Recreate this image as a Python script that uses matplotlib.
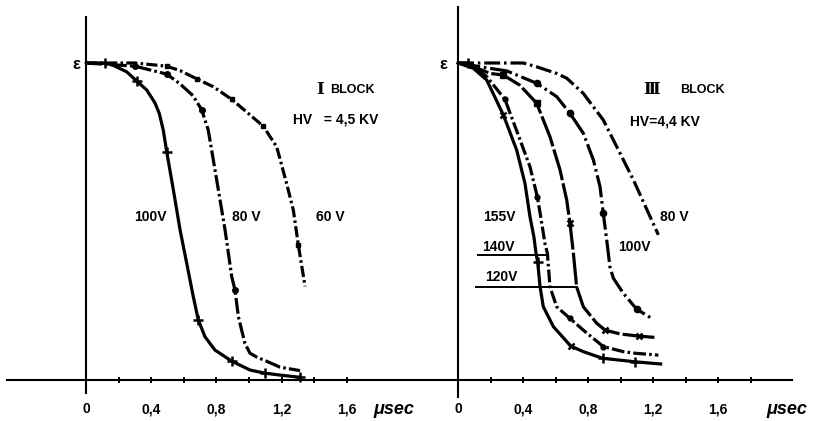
import matplotlib
matplotlib.use("Agg")
import matplotlib.pyplot as plt

# ---------------- data ----------------
# Panel I (HV = 4,5 KV): normalised efficiency vs delay (usec)
I_100_x = [0.0, 0.117, 0.166, 0.25, 0.311, 0.372, 0.423, 0.45, 0.474, 0.495, 0.536, 0.577, 0.618, 0.658, 0.689, 0.73, 0.791, 0.894, 1.006, 1.098, 1.19, 1.313]
I_100_y = [1.0, 1.0, 0.993, 0.972, 0.943, 0.915, 0.874, 0.84, 0.788, 0.72, 0.599, 0.473, 0.367, 0.262, 0.188, 0.135, 0.093, 0.058, 0.03, 0.02, 0.014, 0.007]
I_100_mx = [0.117, 0.311, 0.495, 0.689, 0.894, 1.098, 1.313]
I_100_my = [1.0, 0.943, 0.72, 0.188, 0.058, 0.02, 0.007]

I_80_x = [0.0, 0.3, 0.495, 0.577, 0.656, 0.71, 0.75, 0.802, 0.853, 0.894, 0.914, 0.935, 0.975, 1.006, 1.05, 1.098, 1.19, 1.313]
I_80_y = [1.0, 0.99, 0.965, 0.934, 0.897, 0.852, 0.788, 0.63, 0.473, 0.325, 0.283, 0.198, 0.114, 0.083, 0.07, 0.06, 0.039, 0.028]
I_80_mx = [0.3, 0.495, 0.71, 0.914]
I_80_my = [0.99, 0.965, 0.852, 0.283]

I_60_x = [0.0, 0.3, 0.495, 0.577, 0.679, 0.781, 0.894, 0.986, 1.088, 1.17, 1.231, 1.272, 1.303, 1.344]
I_60_y = [1.0, 1.0, 0.99, 0.976, 0.95, 0.925, 0.885, 0.845, 0.8, 0.735, 0.619, 0.535, 0.424, 0.294]
I_60_mx = [0.495, 0.679, 0.894, 1.088, 1.303]
I_60_my = [0.99, 0.95, 0.885, 0.8, 0.424]

# Panel III (HV = 4,4 KV)
III_80_x = [0.0, 0.277, 0.402, 0.484, 0.607, 0.669, 0.771, 0.894, 0.997, 1.079, 1.233]
III_80_y = [1.0, 1.0, 1.0, 0.988, 0.967, 0.952, 0.904, 0.82, 0.715, 0.631, 0.457]

III_100_x = [0.0, 0.197, 0.3, 0.484, 0.607, 0.689, 0.771, 0.833, 0.874, 0.894, 0.915, 0.935, 0.956, 1.018, 1.1, 1.192]
III_100_y = [1.0, 0.983, 0.975, 0.936, 0.894, 0.841, 0.778, 0.694, 0.609, 0.525, 0.441, 0.356, 0.32, 0.272, 0.222, 0.193]
III_100_mx = [0.484, 0.689, 0.894, 1.1]
III_100_my = [0.936, 0.841, 0.525, 0.222]

III_120_x = [0.0, 0.09, 0.197, 0.279, 0.38, 0.484, 0.566, 0.628, 0.669, 0.689, 0.71, 0.73, 0.771, 0.853, 0.905, 0.997, 1.114, 1.212]
III_120_y = [1.0, 0.99, 0.967, 0.962, 0.93, 0.873, 0.767, 0.662, 0.567, 0.494, 0.399, 0.293, 0.23, 0.178, 0.156, 0.144, 0.137, 0.133]
III_120_sx = [0.279, 0.484]
III_120_sy = [0.962, 0.873]
III_120_xx = [0.689, 0.905, 1.114]
III_120_xy = [0.494, 0.156, 0.137]

III_140_x = [0.0, 0.064, 0.177, 0.289, 0.382, 0.443, 0.488, 0.509, 0.535, 0.55, 0.566, 0.607, 0.689, 0.771, 0.894, 1.017, 1.089, 1.233]
III_140_y = [1.0, 1.0, 0.957, 0.885, 0.757, 0.672, 0.578, 0.514, 0.43, 0.399, 0.293, 0.23, 0.193, 0.156, 0.104, 0.088, 0.083, 0.077]
III_140_mx = [0.289, 0.488, 0.689, 0.894]
III_140_my = [0.885, 0.578, 0.193, 0.104]

III_155_x = [0.0, 0.095, 0.177, 0.279, 0.361, 0.412, 0.443, 0.467, 0.48, 0.49, 0.505, 0.525, 0.587, 0.693, 0.771, 0.89, 1.089, 1.247]
III_155_y = [1.0, 0.983, 0.946, 0.836, 0.725, 0.62, 0.514, 0.451, 0.399, 0.372, 0.293, 0.23, 0.167, 0.106, 0.088, 0.067, 0.056, 0.049]
III_155_xx = [0.279, 0.693]
III_155_xy = [0.836, 0.106]
III_155_px = [0.064, 0.49, 0.89, 1.089]
III_155_py = [1.0, 0.372, 0.067, 0.056]

# label leader lines (panel III): y level, x start, x end
lead_140 = (0.393, 0.123, 0.546)
lead_120 = (0.293, 0.111, 0.73)

I_ticks = [0, 0.2, 0.4, 0.6, 0.8, 1.0, 1.2, 1.4, 1.6]
I_labels = ['0', '', '0,4', '', '0,8', '', '1,2', '', '1,6']
III_ticks = [0, 0.2, 0.4, 0.6, 0.8, 1.0, 1.2, 1.4, 1.6, 1.8]
III_labels = ['0', '', '0,4', '', '0,8', '', '1,2', '', '1,6', '']

# ---------------- figure ----------------
W, H = 813, 421
fig = plt.figure(figsize=(W / 100, H / 100), dpi=100)
fig.patch.set_facecolor('white')

def box(l, r, t, b):
    return [l / W, 1 - b / H, (r - l) / W, (b - t) / H]

FONT = 'Liberation Sans'
K = 'black'

axL = fig.add_axes(box(7, 405, 17, 393))
axL.set_xlim((7 - 86) / 163, (405 - 86) / 163)
axL.set_ylim((379.5 - 393) / 316.5, (379.5 - 17) / 316.5)

axR = fig.add_axes(box(405, 792, 7, 397))
axR.set_xlim((405 - 458) / 162.5, (792 - 458) / 162.5)
axR.set_ylim((379.5 - 397) / 316.5, (379.5 - 7) / 316.5)

for ax, ticks, labels, epad in ((axL, I_ticks, I_labels, 4.5), (axR, III_ticks, III_labels, 7.5)):
    ax.patch.set_visible(False)
    ax.spines['top'].set_visible(False)
    ax.spines['right'].set_visible(False)
    ax.spines['left'].set_position(('data', 0))
    ax.spines['bottom'].set_position(('data', 0))
    ax.spines['left'].set_linewidth(1.5)
    ax.spines['bottom'].set_linewidth(1.5)
    ax.set_xticks(ticks)
    ax.set_xticklabels(labels, fontfamily=FONT, fontweight='bold', fontsize=10)
    ax.tick_params(axis='x', direction='inout', length=5, width=1.4, pad=14)
    ax.set_yticks([1.0])
    ax.set_yticklabels(['ε'], fontfamily=FONT, fontweight='bold', fontsize=12)
    ax.tick_params(axis='y', length=0, pad=epad)

LW = 2.3
# Panel I curves
axL.plot(I_100_x, I_100_y, color=K, lw=LW, solid_capstyle='round', solid_joinstyle='round')
axL.plot(I_100_mx, I_100_my, ls='none', marker='+', ms=7, mew=1.8, color=K)
axL.plot(I_80_x, I_80_y, color=K, lw=LW, dashes=(5, 1, 0.8, 1))
axL.plot(I_80_mx, I_80_my, ls='none', marker='o', ms=4, color=K)
axL.plot(I_60_x, I_60_y, color=K, lw=LW, dashes=(3.5, 1, 0.8, 1))
axL.plot(I_60_mx, I_60_my, ls='none', marker='s', ms=3.5, color=K)

# Panel III curves
axR.plot(III_80_x, III_80_y, color=K, lw=LW, dashes=(5, 1.2, 0.8, 1.2))
axR.plot(III_100_x, III_100_y, color=K, lw=LW, dashes=(7, 1.2, 0.8, 1.2))
axR.plot(III_100_mx, III_100_my, ls='none', marker='o', ms=4.5, color=K)
axR.plot(III_120_x, III_120_y, color=K, lw=LW, dashes=(10, 1))
axR.plot(III_120_sx, III_120_sy, ls='none', marker='s', ms=4, color=K)
axR.plot(III_120_xx, III_120_xy, ls='none', marker='x', ms=5, mew=1.8, color=K)
axR.plot(III_140_x, III_140_y, color=K, lw=LW, dashes=(4, 1, 0.8, 1))
axR.plot(III_140_mx, III_140_my, ls='none', marker='o', ms=3.5, color=K)
axR.plot(III_155_x, III_155_y, color=K, lw=LW, solid_joinstyle='round')
axR.plot(III_155_xx, III_155_xy, ls='none', marker='x', ms=5, mew=1.8, color=K)
axR.plot(III_155_px, III_155_py, ls='none', marker='+', ms=7, mew=1.8, color=K)

for (yl, x0, x1) in (lead_140, lead_120):
    axR.plot([x0, x1], [yl, yl], color=K, lw=1.4)

tk = dict(fontfamily=FONT, fontweight='bold', fontsize=10, color=K, va='center')
rn = dict(fontfamily=['DejaVu Serif', 'DejaVu Sans'], fontweight='bold', fontsize=12,
          color=K, va='center', ha='center')

# Panel I texts
axL.text(1.436, 0.915, 'I', **rn)
axL.text(1.497, 0.915, 'BLOCK', ha='left', **{**tk, 'fontsize': 9})
axL.text(1.27, 0.82, 'HV   = 4,5 KV', ha='left', **tk)
axL.text(0.393, 0.513, '100V', ha='center', **tk)
axL.text(0.982, 0.513, '80 V', ha='center', **tk)
axL.text(1.497, 0.513, '60 V', ha='center', **tk)
axL.text(1.89, -0.096, 'μsec', ha='center', fontstyle='italic',
         **{**tk, 'fontsize': 13})

# Panel III texts
axR.text(1.192, 0.915, 'Ⅲ', **rn)
axR.text(1.366, 0.915, 'BLOCK', ha='left', **{**tk, 'fontsize': 9})
axR.text(1.058, 0.814, 'HV=4,4 KV', ha='left', **tk)
axR.text(1.243, 0.513, '80 V', ha='left', **tk)
axR.text(0.985, 0.419, '100V', ha='left', **tk)
axR.text(0.154, 0.513, '155V', ha='left', **tk)
axR.text(0.148, 0.419, '140V', ha='left', **tk)
axR.text(0.166, 0.324, '120V', ha='left', **tk)
axR.text(2.025, -0.096, 'μsec', ha='center', fontstyle='italic',
         **{**tk, 'fontsize': 13})

fig.savefig('out.png', dpi=100, facecolor='white')
